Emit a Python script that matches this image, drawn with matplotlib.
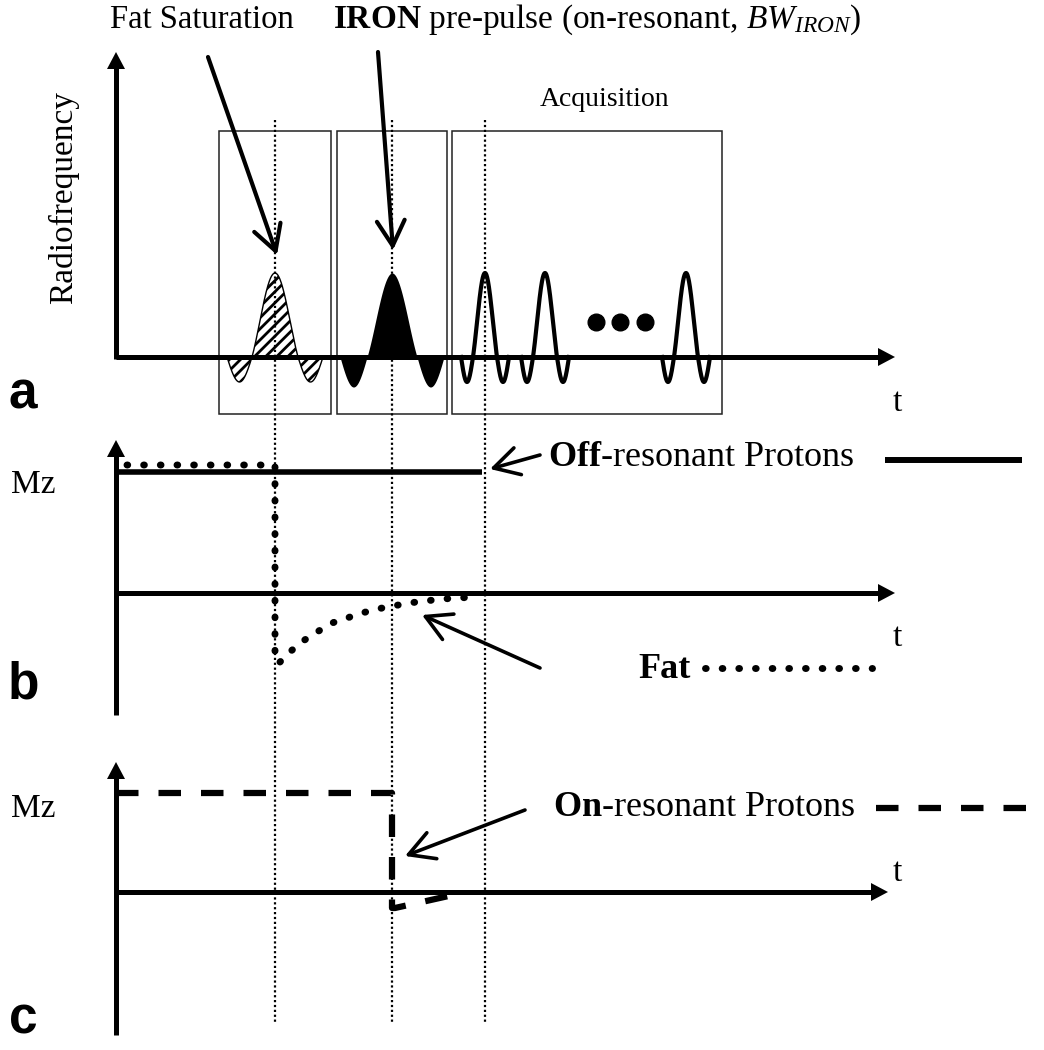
import numpy as np
import matplotlib
matplotlib.use('Agg')
import matplotlib.pyplot as plt
from matplotlib.patches import Rectangle

plt.rcParams['font.family'] = 'Liberation Serif'
plt.rcParams['mathtext.fontset'] = 'custom'
plt.rcParams['mathtext.rm'] = 'Liberation Serif'
plt.rcParams['mathtext.it'] = 'Liberation Serif:italic'
plt.rcParams['mathtext.bf'] = 'Liberation Serif:bold'
plt.rcParams['hatch.linewidth'] = 2.0

# --- Diagram values (canvas units: x = time, y = downward) ---
# event times (pulse centres) -> also the dotted guide lines
t_fatsat = 275
t_iron = 392
t_acq = [485, 545, 686]
guide_times = [t_fatsat, t_iron, t_acq[0]]

# RF pulses: centre, main lobe half width, side lobe width, height, side lobe depth
fat_pulse = (t_fatsat, 23, 25, 84, 25)
iron_pulse = (t_iron, 25, 27, 84, 30)
acq_w, acq_s, acq_h, acq_d = 12, 12, 84, 25
dots_x = [596, 620, 645]

# sequence boxes (left, right)
box_x = [(219, 331), (337, 447), (452, 722)]

# panel baselines (x axis)
base_a, base_b, base_c = 357, 593, 892

# panel b: off-resonant protons (solid) and fat (dotted)
off_x = [116, 482]
off_y = [472, 472]
fat_x = [127, 275, 275, 280, 291, 303, 317, 332, 347, 362, 377, 393, 409, 425, 442, 458, 475]
fat_y = [465, 465, 662, 662, 651, 641, 632, 623, 618, 613, 609, 606, 603, 601, 599, 598, 597]

# panel c: on-resonant protons (dashed)
on_x = [116, 392, 392, 395, 462]
on_y = [793, 793, 908, 908, 893]


def pulse(x, c, w, s, h, d):
    u = np.abs(x - c)
    y = np.zeros_like(x)
    main = u <= w
    y[main] = h * np.sinc(u[main] / w)
    side = (u > w) & (u <= w + s)
    y[side] = -d * np.sin(np.pi * (u[side] - w) / s)
    return y


fig = plt.figure(figsize=(10.44, 10.5), dpi=100)
ax = fig.add_axes([0, 0, 1, 1])
ax.set_xlim(0, 1044)
ax.set_ylim(1050, 0)
ax.axis('off')

k = 'black'
axis_lw = 3.6

# guide lines
for gx in guide_times:
    ax.plot([gx, gx], [120, 1022], color=k, lw=1.6, linestyle=(0, (1, 1.2)))

# boxes
for (l, r) in box_x:
    ax.add_patch(Rectangle((l, 131), r - l, 283, fill=False, ec='#222222', lw=1.1))


def axes_pair(x0, ytop, ybot, ybase, xtip=895):
    ax.plot([x0, x0], [ybot, ytop + 14], color=k, lw=axis_lw, solid_capstyle='butt')
    ax.plot([x0, xtip - 14], [ybase, ybase], color=k, lw=axis_lw, solid_capstyle='butt')
    ax.fill([x0 - 9, x0 + 9, x0], [ytop + 17, ytop + 17, ytop], color=k, lw=0)
    ax.fill([xtip - 17, xtip - 17, xtip], [ybase - 9, ybase + 9, ybase], color=k, lw=0)


axes_pair(116, 52, base_a + 2, base_a)
axes_pair(116, 440, 715, base_b)
axes_pair(116, 762, 1035, base_c, xtip=888)

# RF pulses
xs = np.linspace(fat_pulse[0] - 50, fat_pulse[0] + 50, 400)
ys = base_a - pulse(xs, *fat_pulse)
ax.fill_between(xs, base_a, ys, facecolor='white', edgecolor=k, hatch='///', lw=0)
ax.plot(xs, ys, color=k, lw=1.0)

xs = np.linspace(iron_pulse[0] - 53, iron_pulse[0] + 53, 400)
ys = base_a - pulse(xs, *iron_pulse)
ax.fill_between(xs, base_a, ys, color=k, lw=0)

for c in t_acq:
    xs = np.linspace(c - acq_w - acq_s, c + acq_w + acq_s, 300)
    ax.plot(xs, base_a - pulse(xs, c, acq_w, acq_s, acq_h, acq_d), color=k, lw=3.0)
ax.plot(dots_x, [322] * len(dots_x), 'o', color=k, ms=12)

# magnetisation curves
ax.plot(off_x, off_y, color=k, lw=4.0, solid_capstyle='butt')
ax.plot(fat_x, fat_y, color=k, lw=5.0, linestyle=(0, (0.1, 2.3)), dash_capstyle='round')
ax.plot(on_x, on_y, color=k, lw=4.5, linestyle=(0, (3.6, 3.2)))

# legend-like samples
ax.plot([885, 1022], [460, 460], color=k, lw=4.3, solid_capstyle='butt')
ax.plot([705, 872], [668, 668], color=k, lw=5.0, linestyle=(0, (0.1, 2.3)), dash_capstyle='round')
ax.plot([876, 1044], [808, 808], color=k, lw=4.5, linestyle=(0, (3.6, 3.2)))

# texts
fs = 24
ax.text(110, 20, 'Fat Saturation', fontsize=23.5, va='center', ha='left')
ax.text(333, 20, r'$\mathbf{IRON}$ pre-pulse (on-resonant, $BW_{IRON}$)', fontsize=fs, va='center', ha='left')
ax.text(540, 100, 'Acquisition', fontsize=20, va='center', ha='left')
ax.text(64, 197, 'Radiofrequency', fontsize=fs, rotation=90, va='center', ha='center')
ax.text(548, 458, r'$\mathbf{Off}$-resonant Protons', fontsize=26, va='center', ha='left')
ax.text(638, 670, 'Fat', fontsize=26, fontweight='bold', va='center', ha='left')
ax.text(553, 808, r'$\mathbf{On}$-resonant Protons', fontsize=26, va='center', ha='left')
for ty in [403, 638, 873]:
    ax.text(897, ty, 't', fontsize=fs, va='center', ha='center')
for my in [485, 809]:
    ax.text(33, my, 'Mz', fontsize=fs, va='center', ha='center')
for lab, ly in [('a', 395), ('b', 685), ('c', 1020)]:
    ax.text(23, ly, lab, fontsize=37, fontweight='bold', family='Liberation Sans',
            va='center', ha='center')

# annotation arrows
arr = dict(arrowstyle='->,head_length=0.9,head_width=0.5', color=k, mutation_scale=20,
           shrinkA=0, shrinkB=0)
ax.annotate('', xy=(277, 255), xytext=(208, 57), arrowprops=dict(arr, lw=3.0))
ax.annotate('', xy=(393, 250), xytext=(378, 52), arrowprops=dict(arr, lw=3.0))
ax.annotate('', xy=(490, 469), xytext=(540, 455), arrowprops=dict(arr, lw=2.6))
ax.annotate('', xy=(422, 615), xytext=(540, 668), arrowprops=dict(arr, lw=2.6))
ax.annotate('', xy=(405, 856), xytext=(525, 810), arrowprops=dict(arr, lw=2.6))

fig.savefig('out.png', dpi=100)
